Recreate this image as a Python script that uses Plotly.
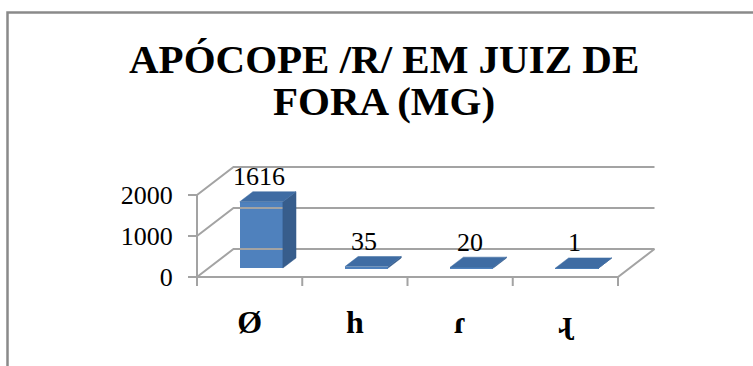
import plotly.graph_objects as go

# ---- data -----------------------------------------------------------------
categories = ["Ø", "h", "ɾ", "ɻ"]
counts = [1616, 35, 20, 1]
y_ticks = [0, 1000, 2000]
title_lines = ["APÓCOPE /R/ EM JUIZ DE", "FORA (MG)"]

# ---- canvas / projection settings ------------------------------------------
W, H = 753, 366
PX_X0 = 197.0          # pixel column of the front-left corner (x = -0.5)
PX_PER_CAT = 105.25    # pixels per category slot
PX_FLOOR = 277.0       # pixel row of the front floor edge (y = 0)
PX_PER_VAL = 0.041     # pixels per count unit

DEPTH_X = 36.5 / PX_PER_CAT   # oblique depth shift in x units
DEPTH_Y = 28.0 / PX_PER_VAL   # oblique depth shift in value units
D0, D1 = 0.32, 0.68           # bar depth span (0 = front, 1 = back)
BAR_W = 0.41

GRID = "#a3a3a3"
FRONT = "#4f81bd"
TOP = "#3f6ca3"
SIDE = "#375d8c"
SERIF = "Liberation Serif, Times New Roman, serif"

x_lo = -0.5 - PX_X0 / PX_PER_CAT
x_hi = x_lo + W / PX_PER_CAT
y_lo = -(H - PX_FLOOR) / PX_PER_VAL
y_hi = PX_FLOOR / PX_PER_VAL


def proj(x, y, d):
    return x + DEPTH_X * d, y + DEPTH_Y * d


n = len(categories)
left, right = -0.5, n - 0.5
ymax = max(y_ticks)

fig = go.Figure()

# ---- walls, floor and gridlines ------------------------------------------
gx, gy = [], []
for v in y_ticks:
    # left-wall diagonal then back-wall gridline
    a = proj(left, v, 0)
    b = proj(left, v, 1)
    c = proj(right, v, 1)
    gx += [a[0], b[0], c[0], None]
    gy += [a[1], b[1], c[1], None]
# front floor edge and right floor edge
fr = proj(right, 0, 1)
gx += [left, right, fr[0], None]
gy += [0, 0, fr[1], None]
# front value axis
gx += [left, left, None]
gy += [0, ymax, None]
# category boundary ticks
tick_len = 9.0 / PX_PER_VAL
for k in range(n + 1):
    gx += [left + k, left + k, None]
    gy += [0, -tick_len, None]

fig.add_trace(go.Scatter(x=gx, y=gy, mode="lines",
                         line=dict(color=GRID, width=2),
                         hoverinfo="skip", showlegend=False))

# ---- 3-D columns -----------------------------------------------------------
centers = [i + DEPTH_X * D0 for i in range(n)]

fig.add_trace(go.Bar(x=centers, y=counts, base=[DEPTH_Y * D0] * n,
                     width=BAR_W, marker=dict(color=FRONT, line=dict(width=0)),
                     hoverinfo="skip", showlegend=False))

tx, ty, sx, sy = [], [], [], []
for i, v in enumerate(counts):
    xl = i - BAR_W / 2
    xr = i + BAR_W / 2
    pts = [proj(xl, v, D0), proj(xr, v, D0), proj(xr, v, D1), proj(xl, v, D1)]
    tx += [p[0] for p in pts] + [pts[0][0], None]
    ty += [p[1] for p in pts] + [pts[0][1], None]
    side = [proj(xr, 0, D0), proj(xr, v, D0), proj(xr, v, D1), proj(xr, 0, D1)]
    sx += [p[0] for p in side] + [side[0][0], None]
    sy += [p[1] for p in side] + [side[0][1], None]

fig.add_trace(go.Scatter(x=sx, y=sy, mode="lines", fill="toself",
                         fillcolor=SIDE, line=dict(color=SIDE, width=0.5),
                         hoverinfo="skip", showlegend=False))
fig.add_trace(go.Scatter(x=tx, y=ty, mode="lines", fill="toself",
                         fillcolor=TOP, line=dict(color=TOP, width=0.5),
                         hoverinfo="skip", showlegend=False))

# ---- value labels ------------------------------------------------------------
for i, v in enumerate(counts):
    fig.add_annotation(x=i + 0.09, y=v + DEPTH_Y * D1, yshift=15,
                       text=str(v), showarrow=False, xanchor="center",
                       yanchor="middle",
                       font=dict(family=SERIF, size=26, color="black"))

# ---- title -----------------------------------------------------------------
for line, py in zip(title_lines, [59, 101]):
    fig.add_annotation(xref="paper", yref="paper", x=384 / W, y=1 - py / H,
                       text=line, showarrow=False,
                       xanchor="center", yanchor="middle",
                       font=dict(family=SERIF, size=41, color="black",
                                 weight="bold"))

# ---- chart-area border -------------------------------------------------------
fig.add_shape(type="rect", xref="paper", yref="paper",
              x0=7.5 / W, x1=1.2, y0=-0.2, y1=1 - 12.5 / H,
              line=dict(color="#8a8a8a", width=2.5), layer="below")

fig.update_layout(
    width=W, height=H,
    margin=dict(l=0, r=0, t=0, b=0),
    paper_bgcolor="white", plot_bgcolor="rgba(0,0,0,0)",
    template="none",
    bargap=0,
    xaxis=dict(range=[x_lo, x_hi], domain=[0, 1], anchor="free",
               position=(H - PX_FLOOR) / H,
               tickvals=list(range(n)), ticktext=categories,
               ticks="", showline=False, showgrid=False, zeroline=False,
               ticklabelstandoff=23, automargin=False,
               tickfont=dict(family=SERIF, size=32, color="black",
                             weight="bold")),
    yaxis=dict(range=[y_lo, y_hi], domain=[0, 1], anchor="free",
               position=PX_X0 / W,
               tickvals=y_ticks, ticktext=[str(t) for t in y_ticks],
               ticks="outside", ticklen=9, tickcolor=GRID, tickwidth=2,
               showline=False, showgrid=False, zeroline=False,
               ticklabelstandoff=10, automargin=False,
               tickfont=dict(family=SERIF, size=26, color="black")),
)

fig.write_html("out.html")
